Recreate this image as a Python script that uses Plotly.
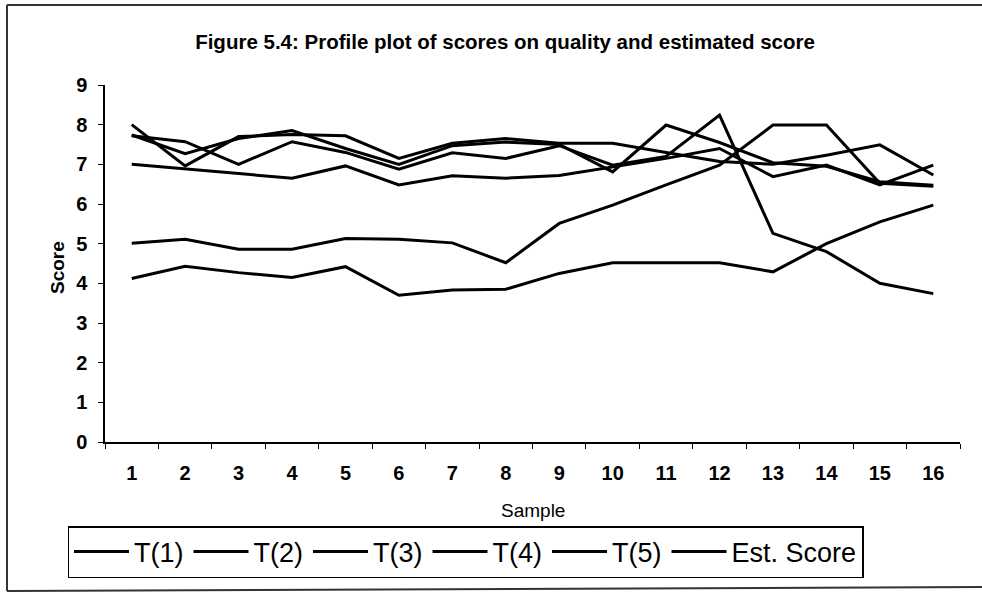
import plotly.graph_objects as go

samples = [str(i) for i in range(1, 17)]

t1 = [8.0, 6.96, 7.7, 7.75, 7.72, 7.15, 7.53, 7.65, 7.53, 7.53, 7.3, 7.07, 7.0, 7.23, 7.49, 6.73]
t2 = [7.74, 7.27, 7.65, 7.85, 7.4, 7.0, 7.47, 7.56, 7.5, 6.81, 7.99, 7.55, 7.04, 6.95, 6.56, 6.47]
t3 = [7.72, 7.57, 7.0, 7.57, 7.3, 6.88, 7.29, 7.15, 7.47, 6.98, 7.2, 8.24, 5.26, 4.8, 4.0, 3.74]
t4 = [5.01, 5.11, 4.86, 4.86, 5.13, 5.11, 5.02, 4.52, 5.51, 5.97, 6.48, 6.98, 7.99, 7.99, 6.52, 6.45]
t5 = [4.12, 4.43, 4.27, 4.15, 4.42, 3.70, 3.83, 3.85, 4.25, 4.52, 4.52, 4.52, 4.29, 5.0, 5.55, 5.97]
est = [7.0, 6.88, 6.77, 6.65, 6.96, 6.48, 6.71, 6.65, 6.72, 6.94, 7.15, 7.4, 6.69, 6.98, 6.48, 6.98]

series_names = ["T(1)", "T(2)", "T(3)", "T(4)", "T(5)", "Est. Score"]
series_values = [t1, t2, t3, t4, t5, est]

y_ticks = list(range(0, 10))

title_text = "Figure 5.4: Profile plot of scores on quality and estimated score"

FONT = "Liberation Sans, Arial, sans-serif"

fig = go.Figure()
for name, vals in zip(series_names, series_values):
    fig.add_trace(go.Scatter(
        x=samples, y=vals, name=name, mode="lines",
        line=dict(color="black", width=3),
    ))

W, H = 982, 594
L, R, T, B = 105, 22, 85, 152
pw, ph = W - L - R, H - T - B


def px(x):
    return (x - L) / pw


def py(y):
    return (H - B - y) / ph


frame_color = "#333333"

fig.update_layout(
    width=W, height=H,
    margin=dict(l=L, r=R, t=T, b=B, pad=0),
    paper_bgcolor="white", plot_bgcolor="white",
    font=dict(family=FONT, color="black"),
    title=dict(text=title_text, x=505 / W, xref="container", xanchor="center",
               y=1 - 42 / H, yref="container", yanchor="middle",
               font=dict(size=20.5, weight="bold", family=FONT)),
    showlegend=True,
    legend=dict(orientation="h", x=px(465.5), xanchor="center",
                y=py(526), yanchor="top",
                bordercolor="black", borderwidth=1.5,
                font=dict(size=27, family=FONT),
                itemwidth=55, traceorder="normal"),
    xaxis=dict(type="category", range=[-0.5, 15.5], showline=True,
               linecolor="black", linewidth=1.5,
               ticks="outside", ticklen=5, tickwidth=1.2, tickcolor="black",
               tickson="boundaries", showgrid=False, zeroline=False,
               tickfont=dict(size=20, weight="bold", family=FONT),
               ticklabelstandoff=12),
    yaxis=dict(range=[0, 9], tickvals=y_ticks, showline=True, linecolor="black",
               linewidth=1.5, ticks="outside", ticklen=5, tickwidth=1.2,
               tickcolor="black", showgrid=False, zeroline=False,
               tickfont=dict(size=20, weight="bold", family=FONT),
               ticklabelstandoff=7),
    annotations=[
        dict(text="Score", x=px(57), y=py(268), xref="paper", yref="paper",
             showarrow=False, textangle=-90, xanchor="center", yanchor="middle",
             font=dict(size=19, weight="bold", family=FONT)),
        dict(text="Sample", x=px(533), y=py(510), xref="paper", yref="paper",
             showarrow=False, xanchor="center", yanchor="middle",
             font=dict(size=19, family=FONT)),
    ],
    shapes=[
        dict(type="line", xref="paper", yref="paper",
             x0=px(7), x1=px(7), y0=py(5), y1=py(591),
             line=dict(color=frame_color, width=2)),
        dict(type="line", xref="paper", yref="paper",
             x0=px(7), x1=px(982), y0=py(5), y1=py(5),
             line=dict(color=frame_color, width=2)),
        dict(type="line", xref="paper", yref="paper",
             x0=px(7), x1=px(982), y0=py(591), y1=py(587),
             line=dict(color=frame_color, width=2)),
    ],
)

fig.write_html("out.html")
